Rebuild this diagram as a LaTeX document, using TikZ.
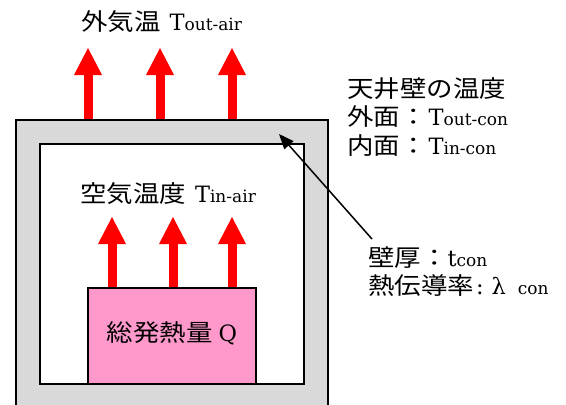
\documentclass[tikz,border=0pt]{standalone}
\usepackage{fontspec}
\setmainfont{DejaVu Serif}
\newfontfamily\jpfont[FakeStretch=1.12,Scale=1.05]{Noto Sans CJK JP}
\usetikzlibrary{arrows.meta}
\definecolor{wallgray}{HTML}{D9D9D9}
\definecolor{heatpink}{HTML}{FF99CC}
\newcommand{\J}[1]{{\jpfont #1}}
\newcommand{\Sb}[1]{{\fontsize{17}{18}\selectfont #1}}
\tikzset{
  wallbox/.style={draw=black, line width=1.5pt, fill=wallgray, inner sep=0pt, outer sep=0pt, anchor=north west},
  roombox/.style={wallbox, fill=white},
  sourcebox/.style={wallbox, fill=heatpink, font=\fontsize{22.5}{24}\selectfont},
  heat/.style={draw=red, line width=9pt, -{Triangle[length=27pt,width=28pt,line width=0pt]}},
  pointer/.style={draw=black, line width=1.5pt, -{Triangle[length=15pt,width=12pt]}},
  lbl/.style={anchor=base west, inner sep=0pt, font=\fontsize{22.5}{24}\selectfont},
}
\begin{document}
\begin{tikzpicture}[x=1pt,y=-1pt]
\useasboundingbox (0,0) rectangle (566,405);
\clip (0,0) rectangle (566,405);
% heat arrows through the ceiling
\coordinate (o1s) at (88,119.5);  \coordinate (o1t) at (88,48);
\coordinate (o2s) at (160,119.5); \coordinate (o2t) at (160,48);
\coordinate (o3s) at (232,119.5); \coordinate (o3t) at (232,48);
\draw[heat] (o1s) -- (o1t);
\draw[heat] (o2s) -- (o2t);
\draw[heat] (o3s) -- (o3t);
% walls and room
\node[wallbox, minimum width=312pt, minimum height=320pt] (wall) at (16,120) {};
\node[roombox, minimum width=264pt, minimum height=240pt] (room) at (40,144) {};
% heat arrows from the source
\coordinate (i1s) at (112,287.5); \coordinate (i1t) at (112,217);
\coordinate (i2s) at (173,287.5); \coordinate (i2t) at (173,217);
\coordinate (i3s) at (232,287.5); \coordinate (i3t) at (232,217);
\draw[heat] (i1s) -- (i1t);
\draw[heat] (i2s) -- (i2t);
\draw[heat] (i3s) -- (i3t);
\node[sourcebox, minimum width=168pt, minimum height=96pt] (source) at (88,288) {\J{総発熱量}\hspace{6pt}Q\rule[-8pt]{0pt}{0pt}};
% labels
\node[lbl] (outair) at (81,30) {\J{外気温}\hspace{9pt}T\Sb{out-air}};
\node[lbl] (inair) at (80,202) {\J{空気温度}\hspace{9pt}T\Sb{in-air}};
\node[lbl] (ceil) at (347,97) {\J{天井壁の温度}};
\node[lbl] (outcon) at (347,125) {\J{外面：}\hspace{2pt}T\Sb{out-con}};
\node[lbl] (incon) at (347,154) {\J{内面：}\hspace{2pt}T\Sb{in-con}};
\node[lbl] (thick) at (368,266) {\J{壁厚：}t\Sb{con}};
\node[lbl] (cond) at (368,294) {\J{熱伝導率}\hspace{2pt}:\hspace{8pt}λ\hspace{12pt}\Sb{con}};
% pointer to the ceiling wall
\coordinate (ptail) at (372,239);
\coordinate (ptip) at (279,134);
\draw[pointer] (ptail) -- (ptip);
\end{tikzpicture}
\end{document}
